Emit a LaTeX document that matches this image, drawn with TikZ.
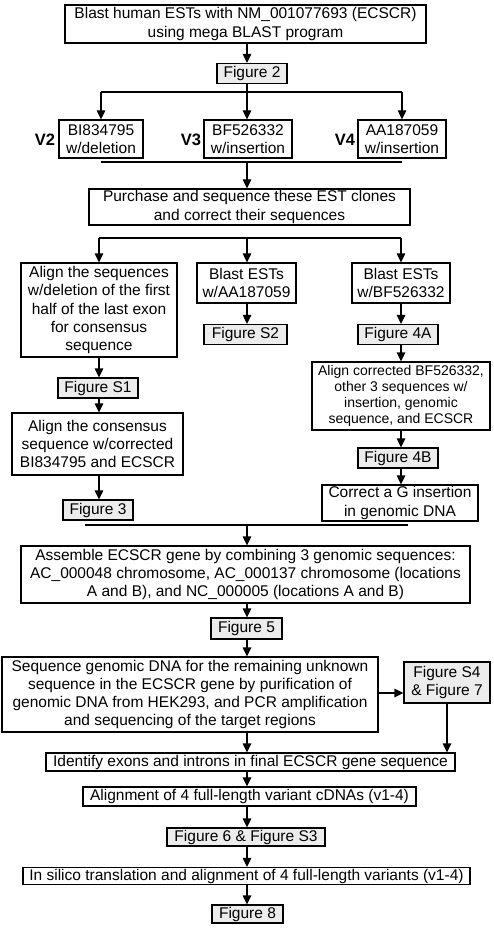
\documentclass[tikz,border=0pt]{standalone}
\usepackage{fontspec}
\setmainfont{Liberation Sans}
\usetikzlibrary{arrows.meta}
\definecolor{figgray}{RGB}{236,236,236}
\tikzset{
  box/.style={draw=black, line width=1.2pt, fill=white, inner sep=0pt, align=center,
    font=\fontsize{15.5}{18.3}\selectfont},
  smallbox/.style={box, font=\fontsize{14}{16}\selectfont},
  figbox/.style={box, fill=figgray},
  vlbl/.style={inner sep=0pt, font=\fontsize{16.5}{18}\selectfont\bfseries},
  ln/.style={line width=1.2pt},
  arr/.style={line width=1.2pt, -{Triangle[width=8.5pt,length=9pt]}},
}
\begin{document}
\begin{tikzpicture}[x=1pt,y=-1pt]
\fill[white] (0,0) rectangle (494,928);
\useasboundingbox (0,0) rectangle (494,928);
\coordinate (cx) at (247,0);
\coordinate (b1) at (0,92);
\coordinate (b2) at (0,162);
\coordinate (b3) at (0,238);
\coordinate (b4) at (0,525);
\coordinate (yS) at (0,693);

\node[box, minimum width=361, minimum height=38] (top) at (245.5,24)
  {Blast human ESTs with NM\_001077693 (ECSCR)\\using mega BLAST program};
\node[figbox, minimum width=70, minimum height=20] (fig2) at (252,73.5) {Figure 2};

\node[box, minimum width=84, minimum height=38] (v2) at (101,139) {BI834795\\w/deletion};
\node[box, minimum width=88, minimum height=38] (v3) at (248,139) {BF526332\\w/insertion};
\node[box, minimum width=88, minimum height=38] (v4) at (402,139) {AA187059\\w/insertion};
\node[vlbl] (l2) at (45,140) {V2};
\node[vlbl] (l3) at (191,140) {V3};
\node[vlbl] (l4) at (345,140) {V4};

\node[box, minimum width=321, minimum height=36] (purchase) at (249.5,207)
  {Purchase and sequence these EST clones\\and correct their sequences};

\node[box, minimum width=156, minimum height=94] (align1) at (99,310)
  {Align the sequences\\w/deletion of the first\\half of the last exon\\for consensus\\sequence};
\node[box, minimum width=99, minimum height=40] (blastA) at (246.5,283) {Blast ESTs\\w/AA187059};
\node[box, minimum width=98, minimum height=40] (blastB) at (401,283) {Blast ESTs\\w/BF526332};
\node[figbox, minimum width=83, minimum height=20] (figS2) at (245.5,334.5) {Figure S2};
\node[figbox, minimum width=80, minimum height=20] (fig4A) at (398,334.5) {Figure 4A};
\node[smallbox, minimum width=178, minimum height=68] (alignC) at (401,396)
  {Align corrected BF526332,\\other 3 sequences w/\\insertion, genomic\\sequence, and ECSCR};
\node[figbox, minimum width=80, minimum height=20] (figS1) at (98,388) {Figure S1};
\node[box, minimum width=171, minimum height=62] (consensus) at (97.5,444)
  {Align the consensus\\sequence w/corrected\\BI834795 and ECSCR};
\node[figbox, minimum width=70, minimum height=20] (fig3) at (98,510) {Figure 3};
\node[figbox, minimum width=80, minimum height=20] (fig4B) at (398,458) {Figure 4B};
\node[box, minimum width=156, minimum height=36] (correctG) at (400,503)
  {Correct a G insertion\\in genomic DNA};

\node[box, minimum width=449, minimum height=57] (assemble) at (245.5,574.5)
  {Assemble ECSCR gene by combining 3 genomic sequences:\\AC\_000048 chromosome, AC\_000137 chromosome (locations\\A and B), and NC\_000005 (locations A and B)};
\node[figbox, minimum width=71, minimum height=21] (fig5) at (246.5,628.5) {Figure 5};
\node[box, minimum width=376, minimum height=75] (sequence) at (190,694.5)
  {Sequence genomic DNA for the remaining unknown\\sequence in the ECSCR gene by purification of\\genomic DNA from HEK293, and PCR amplification\\and sequencing of the target regions};
\node[figbox, minimum width=86, minimum height=41] (figS4) at (447,682.5) {Figure S4\\\& Figure 7};
\node[box, minimum width=409, minimum height=18] (identify) at (250.5,762)
  {Identify exons and introns in final ECSCR gene sequence};
\node[box, minimum width=333, minimum height=19] (alignment) at (249.5,796.5)
  {Alignment of 4 full-length variant cDNAs (v1-4)};
\node[figbox, minimum width=158, minimum height=18] (fig6) at (246,837) {Figure 6 \& Figure S3};
\node[box, minimum width=447, minimum height=17] (silico) at (246.5,876)
  {In silico translation and alignment of 4 full-length variants (v1-4)};
\node[figbox, minimum width=71, minimum height=18] (fig8) at (247.5,914) {Figure 8};

% connectors
\draw[arr] (top.south -| cx) -- (fig2.north -| cx);
\draw[ln] (fig2.south -| cx) -- (cx |- b1);
\draw[ln] (v2.north |- b1) -- (v4.north |- b1);
\draw[arr] (v2.north |- b1) -- (v2.north);
\draw[arr] (cx |- b1) -- (v3.north -| cx);
\draw[arr] (v4.north |- b1) -- (v4.north);

\draw[ln] (v2.south |- b2) -- (v4.south |- b2);
\draw[arr] (cx |- b2) -- (purchase.north -| cx);

\draw[ln] (align1.north |- b3) -- (blastB.north |- b3);
\draw[arr] (align1.north |- b3) -- (align1.north);
\draw[arr] (cx |- b3) -- (blastA.north -| cx);
\draw[arr] (blastB.north |- b3) -- (blastB.north);

\draw[arr] (blastA.south -| cx) -- (figS2.north -| cx);
\draw[arr] (blastB.south) -- (blastB.south |- fig4A.north);
\draw[arr] (blastB.south |- fig4A.south) -- (blastB.south |- alignC.north);
\draw[arr] (blastB.south |- alignC.south) -- (blastB.south |- fig4B.north);
\draw[arr] (blastB.south |- fig4B.south) -- (blastB.south |- correctG.north);

\draw[arr] (align1.south) -- (align1.south |- figS1.north);
\draw[arr] (align1.south |- figS1.south) -- (align1.south |- consensus.north);
\draw[arr] (align1.south |- consensus.south) -- (align1.south |- fig3.north);

\draw[ln] (85,525) coordinate (b4l) -- (408,525) coordinate (b4r);
\draw[arr] (cx |- b4) -- (assemble.north -| cx);
\draw[arr] (assemble.south -| cx) -- (fig5.north -| cx);
\draw[arr] (fig5.south -| cx) -- (sequence.north -| cx);
\draw[arr] (sequence.east |- yS) -- (figS4.west |- yS);
\draw[arr] (figS4.south) -- (figS4.south |- identify.north);
\draw[arr] (sequence.south -| cx) -- (identify.north -| cx);
\draw[arr] (identify.south -| cx) -- (alignment.north -| cx);
\draw[arr] (alignment.south -| cx) -- (fig6.north -| cx);
\draw[arr] (fig6.south -| cx) -- (silico.north -| cx);
\draw[arr] (silico.south -| cx) -- (fig8.north -| cx);
\end{tikzpicture}
\end{document}
